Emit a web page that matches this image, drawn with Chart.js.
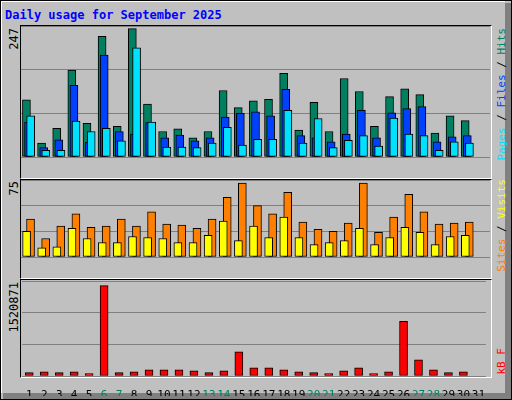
<!DOCTYPE html>
<html>
<head>
<meta charset="utf-8">
<script src="https://cdn.jsdelivr.net/npm/chart.js@4"></script>
<style>
  body { margin: 0; background: #fff; }
  #frame { position: absolute; left: 0; top: 0; width: 510px; height: 398px; background: #C0C0C0;
    border: 1px solid #000; font-family: "DejaVu Sans Mono", monospace; font-size: 11px; }
  #shadowR { position: absolute; left: 504px; top: 2px; width: 6px; height: 396px; background: #808080; }
  #shadowB { position: absolute; left: 2px; top: 392px; width: 508px; height: 6px; background: #808080; }
  #hl { position: absolute; left: 0; top: 0; width: 503px; height: 391px; border-top: 1px solid #fff; border-left: 1px solid #fff; }
  .panel { position: absolute; left: 19px; width: 470px; border-top: 1px solid #000; border-left: 1px solid #000;
    border-right: 1px solid #fff; border-bottom: 1px solid #fff; }
  .cv { position: absolute; }
  .vt { position: absolute; writing-mode: vertical-rl; transform: rotate(180deg); white-space: nowrap; font-size: 11px; }
  #title { position: absolute; left: 4px; top: 7px; color: #0000FF; font-weight: bold; font-size: 12px; }
</style>
</head>
<body>
<div id="frame">
  <div id="shadowR"></div><div id="shadowB"></div><div id="hl"></div>
  <div id="title">Daily usage for September 2025</div>
  <div class="panel" style="top:24px;height:152px"></div>
  <div class="panel" style="top:178px;height:98px"></div>
  <div class="panel" style="top:278px;height:97px"></div>
  <div class="vt" style="left:6px;top:27px;font-size:12px">247</div>
  <div class="vt" style="left:6px;top:180px;font-size:12px">75</div>
  <div class="vt" style="left:6px;top:281px;font-size:12px">1520871</div>
  <div class="vt" style="left:494px;top:27px"><span style="color:#00E0FF">Pages</span> / <span style="color:#0040FF">Files</span> / <span style="color:#008060">Hits</span></div>
  <div class="vt" style="left:494px;top:178px"><span style="color:#FF8000">Sites</span> / <span style="color:#FFFF00">Visits</span></div>
  <div class="vt" style="left:494px;top:347px;color:#FF0000">kB F</div>
  <canvas id="c1" class="cv" style="left:20px;top:25px"></canvas>
  <canvas id="c2" class="cv" style="left:20px;top:179px"></canvas>
  <canvas id="c3" class="cv" style="left:20px;top:280px"></canvas>
</div>
<script>
const days = ['1','2','3','4','5','6','7','8','9','10','11','12','13','14','15','16','17','18','19','20','21','22','23','24','25','26','27','28','29','30','31'];
const weekends = [6, 7, 13, 14, 20, 21, 27, 28];
const hits  = [110,27,55,167,65,232,59,247,102,49,54,37,49,128,95,108,111,161,52,105,49,151,126,59,116,131,120,46,79,70,0];
const files = [67,18,33,138,28,196,49,44,66,37,42,31,37,77,84,87,79,130,41,37,29,44,90,37,85,93,97,29,39,41,0];
const pages = [79,13,13,69,49,55,31,210,67,19,19,18,27,57,23,34,34,90,27,74,18,32,41,21,75,44,41,13,29,27,0];
const visits = [25,9,10,28,18,14,14,20,19,18,14,14,21,35,16,30,19,39,19,12,14,16,28,12,19,29,24,12,20,21,0];
const sites  = [37,18,30,42,29,30,37,30,44,32,31,28,37,58,72,50,42,63,34,27,25,33,72,24,39,61,44,32,33,34,0];
const kbytes = [56000,72000,56000,72000,39000,1520871,56000,72000,105000,105000,105000,89000,56000,89000,405000,139000,139000,105000,72000,56000,39000,89000,139000,39000,72000,921000,272000,105000,56000,72000,0];

function pts(arr, shift) {
    return arr.map((v, i) => ({ x: i + 1 + shift, y: v }));
}
function ds(arr, shift, color, order) {
    return { data: pts(arr, shift), backgroundColor: color, borderColor: '#000', borderWidth: 1,
        barThickness: 8, grouped: false, order: order, borderSkipped: false };
}
function makeChart(id, w, h, datasets, ymax, showX) {
    const cv = document.getElementById(id);
    cv.width = w; cv.height = h;
    cv.style.width = w + 'px'; cv.style.height = h + 'px';
    return new Chart(cv, {
        type: 'bar',
        data: { datasets: datasets },
        options: {
            responsive: false, animation: false, devicePixelRatio: 1,
            layout: { padding: 0 },
            plugins: { legend: { display: false }, tooltip: { enabled: false } },
            scales: {
                x: { type: 'linear', min: 0.5, max: 31.5, offset: false, display: showX,
                    grid: { display: false }, border: { display: false },
                    afterBuildTicks: s => { s.ticks = days.map((d, i) => ({ value: i + 1 })); },
                    afterFit: s => { s.height = 20; },
                    ticks: { autoSkip: false, maxRotation: 0, padding: 5,
                        font: { family: 'DejaVu Sans Mono', size: 11 },
                        color: c => weekends.includes(c.tick.value) ? '#008060' : '#000',
                        callback: v => days[v - 1] } },
                y: { min: 0, max: ymax, ticks: { display: false, stepSize: ymax / 3 },
                    border: { display: false }, grid: { color: '#808080', drawTicks: false },
                    afterFit: s => { s.width = 0; } }
            }
        }
    });
}
makeChart('c1', 469, 151, [
    ds(hits, -0.14, '#008060', 3),
    ds(files, 0, '#0040FF', 2),
    ds(pages, 0.14, '#00E0FF', 1)
], 252, false);
makeChart('c2', 469, 97, [
    ds(visits, -0.13, '#FFFF00', 1),
    ds(sites, 0.13, '#FF8000', 2)
], 75, false);
makeChart('c3', 469, 115, [
    ds(kbytes, 0, '#FF0000', 1)
], 1600000, true);
</script>
</body>
</html>
